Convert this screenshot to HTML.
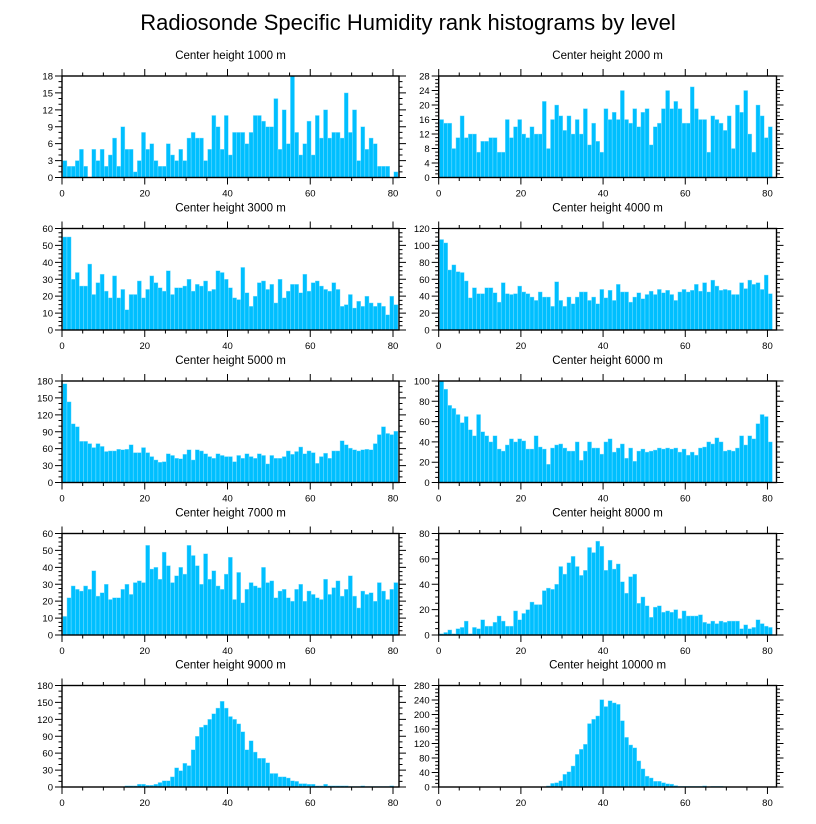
<!DOCTYPE html>
<html><head><meta charset="utf-8">
<style>
html,body{margin:0;padding:0;background:#fff;}
svg{display:block;font-family:"Liberation Sans",Arial,sans-serif;}
</style></head>
<body>
<svg id="chart" width="816" height="824" viewBox="0 0 816 824" xmlns="http://www.w3.org/2000/svg">
<text x="408" y="30" text-anchor="middle" font-size="22">Radiosonde Specific Humidity rank histograms by level</text>
</svg>
<script>
const titles = ["Center height 1000 m","Center height 2000 m","Center height 3000 m","Center height 4000 m","Center height 5000 m","Center height 6000 m","Center height 7000 m","Center height 8000 m","Center height 9000 m","Center height 10000 m"];
const yMaxes = [18,28,60,120,180,100,60,80,180,280];
const ySteps = [3,4,10,20,30,20,10,20,30,40];
const xTicks = [0,20,40,60,80];
const h1000 = [3,2,2,3,5,2,0,5,3,5,2,4,7,2,9,5,5,1,3,8,5,6,3,2,2,6,4,3,5,3,7,8,7,7,3,5,11,9,5,11,4,8,8,8,6,8,11,11,10,9,9,14,5,12,6,18,8,4,6,10,4,11,7,12,7,8,8,7,15,8,12,3,9,5,7,6,2,2,2,0,1];
const h2000 = [16,15,15,8,11,17,11,12,12,7,10,10,11,11,7,7,16,11,14,16,12,11,14,12,12,21,8,16,20,17,13,17,12,16,12,19,9,15,10,7,19,16,18,16,24,16,15,19,14,18,19,9,14,15,19,24,19,21,19,15,15,25,19,16,16,7,17,16,15,13,17,8,20,18,24,12,7,20,17,11,14];
const h3000 = [55,55,30,34,26,26,39,21,28,33,23,19,32,19,24,12,21,21,29,19,24,32,28,25,23,35,21,25,25,26,30,23,27,26,29,23,24,35,34,30,25,19,18,37,22,14,20,28,29,24,27,16,30,19,23,27,27,22,33,23,28,29,26,24,23,28,24,14,15,21,13,17,14,20,16,14,16,14,9,20,15];
const h4000 = [107,103,71,77,69,68,58,38,50,43,43,50,50,44,33,56,43,42,43,52,45,43,39,35,45,39,39,28,57,35,28,39,31,39,45,45,35,39,31,48,38,47,35,54,45,45,33,39,44,37,42,46,42,48,44,47,42,35,45,48,45,47,54,46,56,45,59,52,47,48,47,42,42,56,49,59,54,56,48,65,43];
const h5000 = [175,143,104,99,73,73,69,62,69,64,55,56,56,59,58,59,67,53,53,62,53,46,40,36,37,51,48,43,42,50,58,40,58,56,51,46,43,51,48,46,46,37,48,43,51,46,43,51,48,33,48,43,43,46,56,50,55,63,51,56,53,34,46,52,43,56,56,74,67,61,58,56,58,59,58,69,85,99,87,85,91];
const h6000 = [100,92,76,73,67,59,65,52,46,67,50,46,40,46,33,31,37,43,40,43,41,33,33,46,35,33,18,34,37,38,34,31,31,40,22,31,40,34,34,28,40,43,30,34,38,24,34,21,31,33,30,31,32,34,33,34,33,34,30,33,27,30,27,34,35,40,38,44,40,31,32,31,34,46,37,46,43,58,67,65,40];
const h7000 = [11,22,29,27,26,29,27,38,23,25,30,21,22,22,27,30,24,31,32,31,53,39,40,33,49,41,31,35,40,36,53,47,41,30,48,33,38,29,27,36,46,21,37,19,27,31,29,28,40,31,32,22,26,27,22,20,27,30,20,26,24,22,21,33,24,28,32,23,27,35,23,16,26,24,25,20,31,26,21,27,31];
const h8000 = [1,2,4,1,5,6,11,1,6,5,12,7,7,10,15,11,7,7,19,12,17,20,26,24,24,35,37,36,40,54,48,57,62,54,47,51,69,65,74,70,51,59,52,56,42,33,46,48,25,30,23,14,22,23,18,19,18,20,13,19,15,15,15,16,10,9,11,9,11,10,11,11,11,5,8,5,6,12,9,7,6];
const h9000 = [0,0,0,0,0,0,0,0,0,0,0,0,0,0,0,2,2,2,5,5,3,3,5,8,11,11,18,34,29,42,38,66,90,106,110,120,130,140,152,140,125,120,112,98,66,82,62,51,51,43,24,24,18,18,16,11,10,6,6,5,5,2,2,5,2,2,2,2,2,1,1,1,2,1,1,1,1,1,1,2,0];
const h10000 = [0,0,0,0,0,0,0,0,0,0,0,0,0,0,0,0,0,0,0,0,0,0,0,0,0,0,3,10,12,17,35,42,58,90,104,118,175,187,196,241,222,238,232,228,183,137,116,108,72,50,30,25,16,16,12,9,8,4,2,2,2,2,2,2,3,1,2,2,2,1,0,0,0,0,0,0,0,0,0,0,0];
const series = [h1000,h2000,h3000,h4000,h5000,h6000,h7000,h8000,h9000,h10000];

const NS = "http://www.w3.org/2000/svg";
const svg = document.getElementById("chart");
function mk(tag, attrs, parent){ const e=document.createElementNS(NS,tag); for(const k in attrs) e.setAttribute(k,attrs[k]); (parent||svg).appendChild(e); return e; }

const colX0 = [62, 438.7], colX1 = [399, 776.5], colXMax = [81.45, 82.2];
const rowTop = [76, 228.5, 381, 533.5, 685.5], plotH = 101.5;

series.forEach((vals, p) => {
  const col = p % 2, row = Math.floor(p/2);
  const x0 = colX0[col], x1 = colX1[col], top = rowTop[row], bot = top + plotH;
  const xmax = colXMax[col], ymax = yMaxes[p], step = ySteps[p];
  const xs = v => x0 + (x1 - x0) * v / xmax;
  const ys = v => bot - plotH * v / ymax;
  const g = mk("g", {});
  
  
  const t = mk("text", {x:(x0+x1)/2, y: top-17, "text-anchor":"middle", "font-size":"11.5"}, g);
  t.textContent = titles[p];
  
  
  vals.forEach((v, i) => {
    if (v <= 0) return;
    const r = mk("rect", {x: xs(i+0.2), y: ys(v), width: xs(i+1.2)-xs(i+0.2), height: bot-ys(v), fill:"#00bfff", stroke:"#8fe3ff", "stroke-width":"0.4"}, g);
    
    
  });
  let d = "";
  for (let v = 0; v <= xmax; v += 5) {
    const major = v % 20 === 0, L = major ? 7 : 3.5, X = xs(v);
    d += `M${X},${top}v${-L}M${X},${bot}v${L}`;
  }
  const minorDiv = (step===3||step===30)?3:4;
  const ms = step / minorDiv;
  for (let k = 0; k*ms <= ymax + 1e-9; k++) {
    const v = k*ms, major = k % minorDiv === 0, L = major ? 7 : 3.5, Y = ys(v);
    d += `M${x0},${Y}h${-L}M${x1},${Y}h${L}`;
  }
  const tk = mk("path", {d, stroke:"#000", "stroke-width":"1", fill:"none"}, g);
  
  
  const box = mk("rect", {x:x0, y:top, width:x1-x0, height:plotH, fill:"none", stroke:"#000", "stroke-width":"1.4"}, g);
  
  
  for (let v = 0; v <= ymax; v += step) {
    const lt = mk("text", {x: x0-9, y: ys(v)+3.5, "text-anchor":"end", "font-size":"9.5"}, g);
    lt.textContent = v;
    
    
  }
  xTicks.forEach(v => {
    const lt = mk("text", {x: xs(v), y: bot+19, "text-anchor":"middle", "font-size":"9.5"}, g);
    lt.textContent = v;
    
    
  });
});
</script>
</body></html>
